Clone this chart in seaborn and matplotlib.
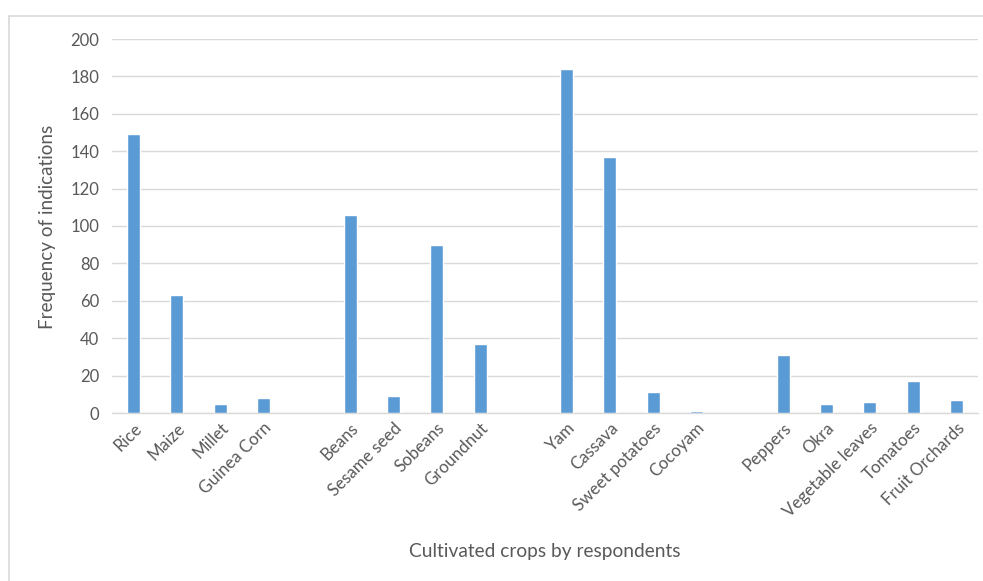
import matplotlib
matplotlib.use("Agg")
import matplotlib.pyplot as plt
import seaborn as sns
import pandas as pd
from matplotlib.lines import Line2D

crops = ["Rice", "Maize", "Millet", "Guinea Corn",
         "Beans", "Sesame seed", "Sobeans", "Groundnut",
         "Yam", "Cassava", "Sweet potatoes", "Cocoyam",
         "Peppers", "Okra", "Vegetable leaves", "Tomatoes", "Fruit Orchards"]
frequency = [149, 63, 5, 8,
             106, 9, 90, 37,
             184, 137, 11, 1,
             31, 5, 6, 17, 7]
groups = [4, 4, 4, 5]

# build category order with an empty slot between groups
order = []
i = 0
for g_idx, g in enumerate(groups):
    order.extend(crops[i:i + g])
    i += g
    if g_idx < len(groups) - 1:
        order.append(" " * (g_idx + 1))

df = pd.DataFrame({"crop": crops, "freq": frequency})

sns.set_theme(style="white")
plt.rcParams['font.family'] = ['Lato', 'DejaVu Sans']

fig = plt.figure(figsize=(9.83, 5.81), dpi=100)
ax = fig.add_axes([112 / 983, 168 / 581, (978 - 112) / 983, (413 - 39) / 581])

sns.barplot(data=df, x="crop", y="freq", order=order, color="#5B9BD5",
            width=0.3, saturation=1, ax=ax, zorder=3)

ax.set_ylim(0, 200)
ax.set_xlim(-0.5, len(order) - 0.5)
ax.set_yticks(range(0, 201, 20))
ax.yaxis.grid(True, color="#D9D9D9", linewidth=1)
ax.set_axisbelow(True)
for s in ["top", "right", "left"]:
    ax.spines[s].set_visible(False)
ax.spines["bottom"].set_color("#D9D9D9")
ax.spines["bottom"].set_linewidth(1)
ax.tick_params(axis="y", length=0, colors="#595959", labelsize=12, pad=9)
ax.tick_params(axis="x", length=0, colors="#595959", labelsize=12.2, pad=5)

labels = [lab if lab.strip() else "" for lab in order]
ax.set_xticks(range(len(order)))
ax.set_xticklabels(labels, rotation=45, ha="right", rotation_mode="anchor")

ax.set_ylabel("")
ax.set_xlabel("")
fig.text(48 / 983, 1 - 227 / 581, "Frequency of indications", rotation=90,
         ha="center", va="center", fontsize=13.6, color="#595959")
fig.text(545 / 983, 1 - 552 / 581, "Cultivated crops by respondents",
         ha="center", va="center", fontsize=13.8, color="#595959")

# outer chart frame (left and top edges visible)
fig.add_artist(Line2D([8.5 / 983, 8.5 / 983], [0, 1 - 16 / 581],
                      transform=fig.transFigure, color="#D9D9D9", linewidth=1.2))
fig.add_artist(Line2D([8.5 / 983, 1], [1 - 16 / 581, 1 - 16 / 581],
                      transform=fig.transFigure, color="#D9D9D9", linewidth=1.2))

fig.savefig("out.png", dpi=100, facecolor="white")
